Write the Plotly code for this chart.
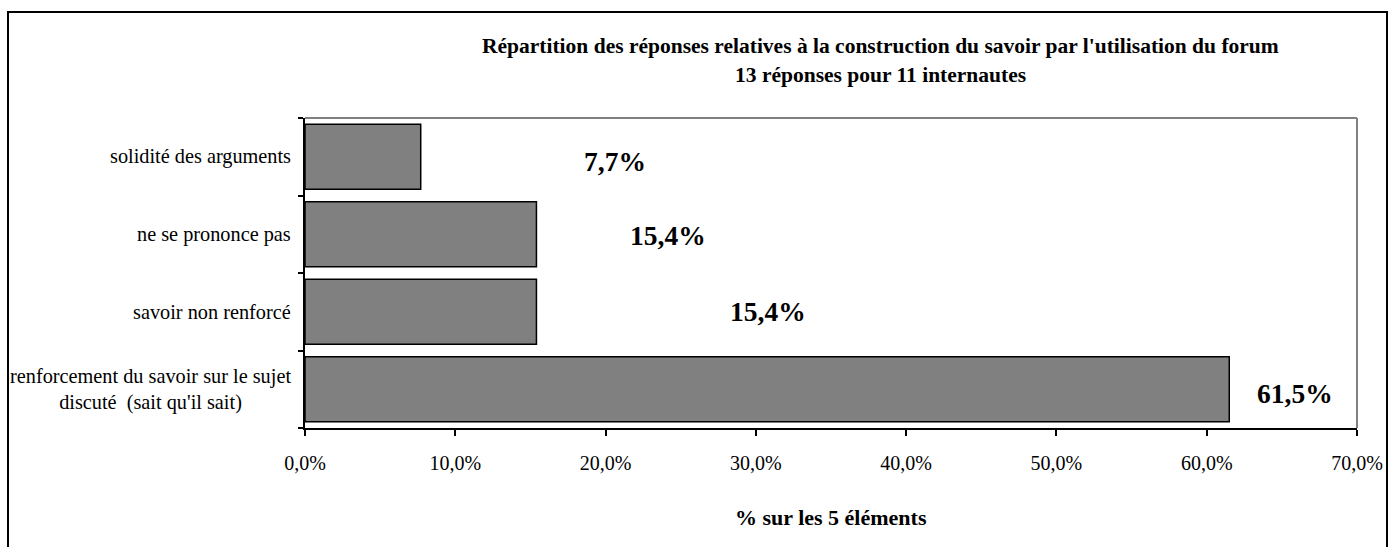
import plotly.graph_objects as go

# Response categories, bottom to top
categories = [
    "renforcement du savoir sur le sujet<br>discuté  (sait qu'il sait)",
    "savoir non renforcé",
    "ne se prononce pas",
    "solidité des arguments",
]
# Share of the 13 answers, in percent
shares = [61.5, 15.4, 15.4, 7.7]

# Horizontal offset (axis units) between each bar end and its value label
label_offsets = [4.4, 15.4, 8.75, 12.9]
label_yshift = [-4, 0, -1, -5]

x_ticks = [0, 10, 20, 30, 40, 50, 60, 70]
x_tick_text = [f"{t:.1f}".replace(".", ",") + "%" for t in x_ticks]

title_line1 = "Répartition des réponses relatives à la construction du savoir par l'utilisation du forum"
title_line2 = "13 réponses pour 11 internautes"
x_title = "% sur les 5 éléments"

SERIF = "Liberation Serif"

fig = go.Figure()
fig.add_trace(go.Bar(
    x=shares,
    y=categories,
    orientation="h",
    width=0.84,
    marker=dict(color="#808080", line=dict(color="#000000", width=1.5)),
    hoverinfo="skip",
))

annotations = []
# value labels
for cat, val, off, ys in zip(categories, shares, label_offsets, label_yshift):
    annotations.append(dict(
        x=val + off, y=cat, xref="x", yref="y",
        text=f"{val:.1f}".replace(".", ",") + "%",
        showarrow=False, xanchor="center", yanchor="middle", yshift=ys,
        font=dict(family=SERIF, size=27.5, color="#000000", weight="bold"),
    ))
# category labels (centered multi-line text, right edge next to the axis)
for cat in categories:
    annotations.append(dict(
        x=0, y=cat, xref="paper", yref="y",
        text=cat, showarrow=False, xanchor="right", yanchor="middle",
        align="center", xshift=-12,
        font=dict(family=SERIF, size=20.3, color="#000000"),
    ))
# titles
annotations.append(dict(
    x=0.5466, y=1, xref="paper", yref="paper", text=title_line1,
    showarrow=False, xanchor="center", yanchor="middle", yshift=72,
    font=dict(family=SERIF, size=21.5, color="#000000", weight="bold"),
))
annotations.append(dict(
    x=0.5466, y=1, xref="paper", yref="paper", text=title_line2,
    showarrow=False, xanchor="center", yanchor="middle", yshift=43,
    font=dict(family=SERIF, size=21.5, color="#000000", weight="bold"),
))
annotations.append(dict(
    x=0.5, y=0, xref="paper", yref="paper", text=x_title,
    showarrow=False, xanchor="center", yanchor="middle", yshift=-89,
    font=dict(family=SERIF, size=22, color="#000000", weight="bold"),
))

shapes = [
    # gray top and right edges of the plot frame
    dict(type="line", xref="paper", yref="paper", x0=0, x1=1, y0=1, y1=1,
         line=dict(color="#808080", width=2)),
    dict(type="line", xref="paper", yref="paper", x0=1, x1=1, y0=0, y1=1,
         line=dict(color="#808080", width=2)),
    # outer chart border
    dict(type="rect", xref="paper", yref="paper",
         xsizemode="pixel", ysizemode="pixel", xanchor=0, yanchor=0,
         x0=-297, x1=1082, y0=-130, y1=416,
         line=dict(color="#000000", width=2), fillcolor="rgba(0,0,0,0)"),
]

fig.update_layout(
    width=1388, height=547,
    margin=dict(l=305, r=31, t=118, b=119, autoexpand=False),
    paper_bgcolor="#ffffff", plot_bgcolor="#ffffff",
    showlegend=False,
    bargap=0.16,
    annotations=annotations,
    shapes=shapes,
    font=dict(family=SERIF, color="#000000"),
    xaxis=dict(
        range=[0, 70], tickvals=x_ticks, ticktext=x_tick_text,
        showgrid=False, zeroline=False, automargin=False,
        showline=True, linecolor="#000000", linewidth=1.5,
        ticks="outside", ticklen=6, tickcolor="#000000", tickwidth=1.5,
        ticklabelstandoff=10,
        tickfont=dict(family=SERIF, size=20, color="#000000"),
        fixedrange=True,
    ),
    yaxis=dict(
        categoryorder="array", categoryarray=categories,
        showticklabels=False, showgrid=False, zeroline=False, automargin=False,
        showline=True, linecolor="#000000", linewidth=1.5,
        ticks="outside", ticklen=5, tickcolor="#000000", tickwidth=1.5,
        tickson="boundaries",
        fixedrange=True,
    ),
)

fig.write_html("out.html", config={"displayModeBar": False})
